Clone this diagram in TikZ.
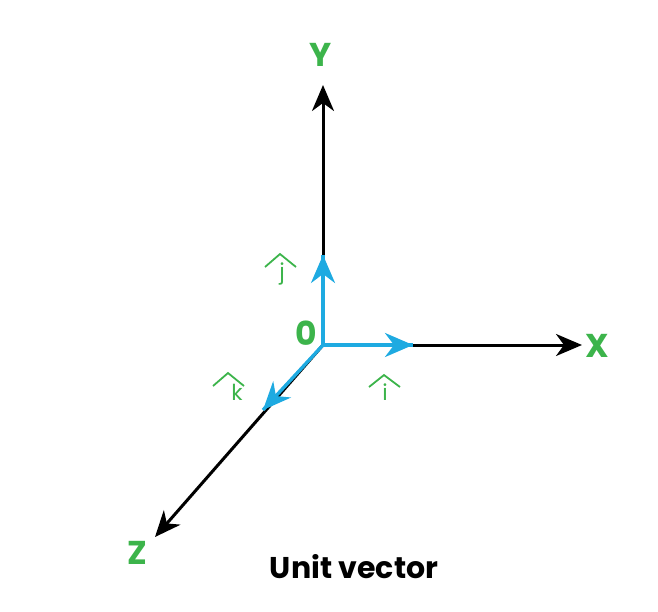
\documentclass[tikz,border=0pt]{standalone}
\usepackage{fontspec}
\setmainfont{Poppins}
\usetikzlibrary{arrows.meta,decorations.markings}
\definecolor{gr}{RGB}{60,180,75}
\definecolor{bl}{RGB}{30,170,225}
\begin{document}
\begin{tikzpicture}[x=1pt,y=-1pt,
  axis/.style={line width=3pt,-{Stealth[length=26pt,width=22pt,inset=8pt]}},
  unitv/.style={line width=3.4pt,bl,postaction={decorate},decoration={markings,mark=at position 1 with {\arrow{Stealth[length=28pt,width=24pt,inset=9pt]}}}},
  lab/.style={text=gr,font=\bfseries\fontsize{33}{33}\selectfont},
  hatlab/.style={text=gr,font=\fontsize{22}{22}\selectfont}]
\useasboundingbox (0,0) rectangle (658,611);
\coordinate (o) at (323,345);
\coordinate (yt) at (323,85);
\coordinate (xt) at (582,345);
\coordinate (zt) at (155,537);
\coordinate (jt) at (323,255);
\coordinate (it) at (413,345);
\coordinate (kt) at (263,410);
\draw[axis] (o) -- (yt);
\draw[axis] (o) -- (xt);
\draw[axis] (o) -- (zt);
\draw[unitv] (o) -- (jt);
\draw[unitv] (o) -- (it);
\draw[unitv] (o) -- (kt);
\node[lab] (ly) at (321,55) {Y};
\node[lab] (lx) at (597,346) {X};
\node[lab] (lz) at (137,553) {Z};
\node[lab] (lo) at (306,333) {0};
\node[hatlab] (lj) at (282,274) {j};
\node[hatlab] (li) at (385,392) {i};
\node[hatlab] (lk) at (237,392) {k};
\draw[gr,line width=1.8pt] (265,267) -- (280,254) -- (296,267);
\draw[gr,line width=1.8pt] (369,387) -- (384,375) -- (400,387);
\draw[gr,line width=1.8pt] (213,386) -- (228,373) -- (244,386);
\node[font=\bfseries\fontsize{30}{30}\selectfont] (t) at (354,567) {Unit vector};
\end{tikzpicture}
\end{document}
